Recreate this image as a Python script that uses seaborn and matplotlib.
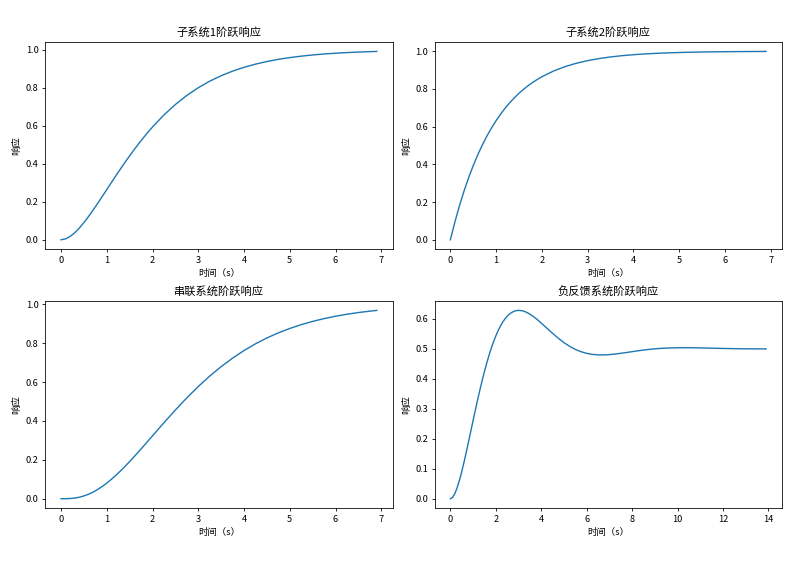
import numpy as np
import pandas as pd
import matplotlib
matplotlib.use("Agg")
import matplotlib.pyplot as plt
import seaborn as sns

plt.rcParams['font.family'] = ['Noto Sans CJK SC', 'DejaVu Sans']
plt.rcParams['axes.unicode_minus'] = False

# time grids (s)
t_short = [0.0, 0.1, 0.2, 0.3, 0.4, 0.5, 0.6, 0.7, 0.8, 0.9, 1.0,
           1.1, 1.2, 1.3, 1.4, 1.5, 1.6, 1.7, 1.8, 1.9, 2.0,
           2.25, 2.5, 2.75, 3.0, 3.25, 3.5, 3.75, 4.0, 4.25, 4.5, 4.75,
           5.0, 5.25, 5.5, 5.75, 6.0, 6.25, 6.5, 6.75, 6.9]
t_long = [0.0, 0.1, 0.2, 0.3, 0.4, 0.5, 0.6, 0.7, 0.8, 0.9, 1.0,
          1.1, 1.2, 1.3, 1.4, 1.5, 1.6, 1.7, 1.8, 1.9, 2.0,
          2.1, 2.2, 2.3, 2.4, 2.5, 2.6, 2.7, 2.8, 2.9, 3.0,
          3.1, 3.2, 3.3, 3.4, 3.5, 3.6, 3.7, 3.8, 3.9, 4.0,
          4.25, 4.5, 4.75, 5.0, 5.25, 5.5, 5.75, 6.0, 6.25, 6.5, 6.75,
          7.0, 7.25, 7.5, 7.75, 8.0, 8.25, 8.5, 8.75, 9.0, 9.25, 9.5, 9.75,
          10.0, 10.25, 10.5, 10.75, 11.0, 11.25, 11.5, 11.75,
          12.0, 12.25, 12.5, 12.75, 13.0, 13.25, 13.5, 13.75, 13.9]

# step responses
resp_sub1 = [0.0, 0.0047, 0.0175, 0.0369, 0.0616, 0.0902, 0.1219, 0.1558, 0.1912, 0.2275, 0.2642,
             0.3010, 0.3374, 0.3732, 0.4082, 0.4422, 0.4751, 0.5068, 0.5372, 0.5663, 0.5940,
             0.6575, 0.7127, 0.7603, 0.8009, 0.8352, 0.8641, 0.8883, 0.9084, 0.9251, 0.9389, 0.9503,
             0.9596, 0.9672, 0.9734, 0.9785, 0.9826, 0.9860, 0.9887, 0.9909, 0.9920]
resp_sub2 = [0.0, 0.0952, 0.1813, 0.2592, 0.3297, 0.3935, 0.4512, 0.5034, 0.5507, 0.5934, 0.6321,
             0.6671, 0.6988, 0.7275, 0.7534, 0.7769, 0.7981, 0.8173, 0.8347, 0.8504, 0.8647,
             0.8946, 0.9179, 0.9361, 0.9502, 0.9612, 0.9698, 0.9765, 0.9817, 0.9857, 0.9889, 0.9913,
             0.9933, 0.9948, 0.9959, 0.9968, 0.9975, 0.9981, 0.9985, 0.9988, 0.9990]
resp_series = [0.0, 0.0002, 0.0011, 0.0036, 0.0079, 0.0144, 0.0231, 0.0341, 0.0474, 0.0628, 0.0803,
               0.0996, 0.1205, 0.1429, 0.1665, 0.1912, 0.2167, 0.2428, 0.2694, 0.2963, 0.3233,
               0.3907, 0.4562, 0.5186, 0.5768, 0.6304, 0.6791, 0.7229, 0.7618, 0.7963, 0.8264, 0.8527,
               0.8753, 0.8948, 0.9115, 0.9259, 0.9380, 0.9483, 0.9570, 0.9642, 0.9680]
resp_feedback = [0.0, 0.0047, 0.0175, 0.0369, 0.0615, 0.0900, 0.1215, 0.1550, 0.1898, 0.2252, 0.2606,
                 0.2956, 0.3297, 0.3626, 0.3940, 0.4238, 0.4516, 0.4775, 0.5013, 0.5230, 0.5424,
                 0.5597, 0.5749, 0.5880, 0.5990, 0.6081, 0.6153, 0.6208, 0.6246, 0.6269, 0.6277,
                 0.6273, 0.6258, 0.6231, 0.6196, 0.6153, 0.6103, 0.6047, 0.5987, 0.5923, 0.5856,
                 0.5683, 0.5512, 0.5350, 0.5204, 0.5080, 0.4978, 0.4901, 0.4846, 0.4811, 0.4795, 0.4793,
                 0.4804, 0.4822, 0.4847, 0.4874, 0.4902, 0.4930, 0.4955, 0.4977, 0.4996, 0.5010, 0.5021, 0.5028,
                 0.5032, 0.5034, 0.5033, 0.5031, 0.5027, 0.5023, 0.5018, 0.5014,
                 0.5009, 0.5006, 0.5002, 0.4999, 0.4997, 0.4996, 0.4995, 0.4995, 0.4994]

titles = ['子系统1阶跃响应', '子系统2阶跃响应', '串联系统阶跃响应', '负反馈系统阶跃响应']
xlabel = '时间（s）'
ylabel = '响应'

panels = [(t_short, resp_sub1), (t_short, resp_sub2),
          (t_short, resp_series), (t_long, resp_feedback)]

fig, axes = plt.subplots(2, 2, figsize=(793 / 72, 564 / 72), dpi=72)
fig.subplots_adjust(left=0.057, right=0.986, bottom=0.099, top=0.9255,
                    wspace=0.121, hspace=0.25)

for ax, (tt, yy), title in zip(axes.flat, panels, titles):
    df = pd.DataFrame({'t': tt, 'y': yy})
    sns.lineplot(data=df, x='t', y='y', ax=ax, color='#1f77b4', linewidth=1.4)
    ax.set_title(title, fontsize=11.2)
    ax.set_xlabel(xlabel, fontsize=9.4)
    ax.set_ylabel(ylabel, fontsize=9.4)
    ax.tick_params(labelsize=9.2, length=3.3)

fig.savefig('out.png', dpi=72)
